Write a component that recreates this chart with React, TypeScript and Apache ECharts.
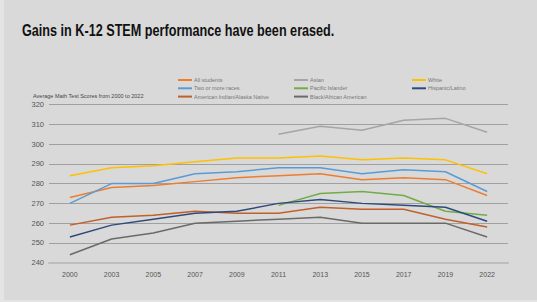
import React, { useEffect, useRef } from "react";
import * as echarts from "echarts";

const years = ["2000", "2003", "2005", "2007", "2009", "2011", "2013", "2015", "2017", "2019", "2022"];

const allStudents = [273, 278, 279, 281, 283, 284, 285, 282, 283, 282, 274];
const twoOrMore = [270, 280, 280, 285, 286, 288, 288, 285, 287, 286, 276];
const amIndian = [259, 263, 264, 266, 265, 265, 268, 267, 267, 262, 258];
const asian = [null, null, null, null, null, 305, 309, 307, 312, 313, 306];
const pacific = [null, null, null, null, null, 269, 275, 276, 274, 266, 264];
const black = [244, 252, 255, 260, 261, 262, 263, 260, 260, 260, 253];
const white = [284, 288, 289, 291, 293, 293, 294, 292, 293, 292, 285];
const hispanic = [253, 259, 262, 265, 266, 270, 272, 270, 269, 268, 261];

const yTicks = [240, 250, 260, 270, 280, 290, 300, 310, 320];

const seriesDefs = [
  { name: "All students", data: allStudents, color: "#ED7D31" },
  { name: "Two or more races", data: twoOrMore, color: "#5B9BD5" },
  { name: "American Indian/Alaska Native", data: amIndian, color: "#C0602A" },
  { name: "Asian", data: asian, color: "#A5A5A5" },
  { name: "Pacific Islander", data: pacific, color: "#70AD47" },
  { name: "Black/African American", data: black, color: "#6A6A6A" },
  { name: "White", data: white, color: "#FFC000" },
  { name: "Hispanic/Latino", data: hispanic, color: "#2E4A7D" },
];

const legendCols = [
  ["All students", "Two or more races", "American Indian/Alaska Native"],
  ["Asian", "Pacific Islander", "Black/African American"],
  ["White", "Hispanic/Latino"],
];
const legendLeft = [178, 294, 412];

export default function App() {
  const ref = useRef<HTMLDivElement>(null);
  useEffect(() => {
    if (!ref.current) return;
    const chart = echarts.init(ref.current, null, { renderer: "svg" });
    chart.setOption({
      animation: false,
      backgroundColor: "#e4e4e4",
      graphic: [
        {
          type: "rect",
          z: -10,
          shape: { x: 4, y: 0, width: 533, height: 300 },
          style: { fill: "#d9d9d9" },
        },
        {
          type: "text",
          x: 22,
          y: 22,
          scaleX: 0.79,
          style: {
            text: "Gains in K-12 STEM performance have been erased.",
            font: "bold 16px 'Liberation Sans', Arial, sans-serif",
            fill: "#111",
          },
        },
        {
          type: "text",
          left: 33,
          top: 93,
          style: {
            text: "Average Math Test Scores from 2000 to 2022",
            font: "5.5px 'Liberation Sans', Arial, sans-serif",
            fill: "#444",
          },
        },
      ],
      legend: legendCols.map((col, i) => ({
        data: col,
        orient: "vertical",
        left: legendLeft[i],
        top: 77,
        itemGap: 2.3,
        itemWidth: 14,
        itemHeight: 2,
        icon: "rect",
        padding: 0,
        textStyle: { fontSize: 5.5, color: "#777", fontFamily: "'Liberation Sans', Arial, sans-serif", padding: [0, 0, 0, -3] },
      })),
      grid: { left: 49, right: 29, top: 104.5, bottom: 39.3 },
      xAxis: {
        type: "category",
        data: years,
        boundaryGap: true,
        axisLine: { show: true, lineStyle: { color: "#BDBDBD", width: 2 } },
        axisTick: { show: false },
        axisLabel: { fontSize: 7, color: "#555", margin: 8, fontFamily: "'Liberation Sans', Arial, sans-serif" },
      },
      yAxis: {
        type: "value",
        min: yTicks[0],
        max: yTicks[yTicks.length - 1],
        interval: 10,
        axisLine: { show: false },
        axisTick: { show: false },
        axisLabel: { fontSize: 7.5, color: "#555", margin: 5, fontFamily: "'Liberation Sans', Arial, sans-serif" },
        splitLine: { lineStyle: { color: "#A0A0A0", width: 1 } },
      },
      series: seriesDefs.map((s) => ({
        name: s.name,
        type: "line",
        data: s.data,
        showSymbol: false,
        symbol: "none",
        lineStyle: { color: s.color, width: 1.5 },
        itemStyle: { color: s.color },
      })),
    });
    return () => chart.dispose();
  }, []);
  return (
    <div
      ref={ref}
      style={{ position: "fixed", left: 0, top: 0, width: 537, height: 302 }}
    />
  );
}
